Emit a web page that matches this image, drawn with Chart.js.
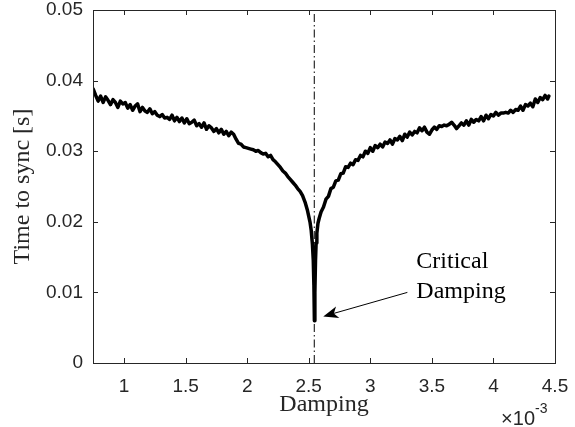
<!DOCTYPE html>
<html>
<head>
<meta charset="utf-8">
<script src="https://cdn.jsdelivr.net/npm/chart.js@4.4.0/dist/chart.umd.min.js"></script>
<style>
  html, body { margin: 0; padding: 0; background: #fff; }
  #chart { display: block; }
</style>
</head>
<body>
<canvas id="chart" width="575" height="427"></canvas>
<script>
// damping values are in units of 1e-3 (axis shows x10^-3)
const dampingE3 = [
  0.75, 0.77, 0.79, 0.81, 0.83, 0.85, 0.87, 0.89, 0.91, 0.93, 0.95, 0.97, 0.99,
  1.01, 1.03, 1.05, 1.07, 1.09, 1.11, 1.13, 1.15, 1.17, 1.19, 1.21, 1.23, 1.25,
  1.27, 1.29, 1.31, 1.33, 1.35, 1.37, 1.39, 1.41, 1.43, 1.45, 1.47, 1.49, 1.51,
  1.53, 1.55, 1.57, 1.59, 1.61, 1.63, 1.65, 1.67, 1.69, 1.71, 1.73, 1.75, 1.77,
  1.79, 1.81, 1.83, 1.85, 1.87, 1.89, 1.91, 1.93, 1.95, 1.97, 1.99, 2.01, 2.03,
  2.05, 2.07, 2.09, 2.11, 2.13, 2.15, 2.17, 2.19, 2.21, 2.23, 2.25, 2.27, 2.29,
  2.31, 2.33, 2.35, 2.37, 2.39, 2.41, 2.43, 2.45, 2.47, 2.49, 2.51, 2.52, 2.53,
  2.537, 2.542, 2.546, 2.55, 2.555, 2.56, 2.566, 2.575, 2.585, 2.60, 2.62, 2.64,
  2.66, 2.68, 2.70, 2.72, 2.74, 2.76, 2.78, 2.80, 2.82, 2.84, 2.86, 2.88, 2.90,
  2.92, 2.94, 2.96, 2.98, 3.00, 3.02, 3.04, 3.06, 3.08, 3.10, 3.12, 3.14, 3.16,
  3.18, 3.20, 3.22, 3.24, 3.26, 3.28, 3.30, 3.32, 3.34, 3.36, 3.38, 3.40, 3.42,
  3.44, 3.46, 3.48, 3.50, 3.52, 3.54, 3.56, 3.58, 3.60, 3.62, 3.64, 3.66, 3.68,
  3.70, 3.72, 3.74, 3.76, 3.78, 3.80, 3.82, 3.84, 3.86, 3.88, 3.90, 3.92, 3.94,
  3.96, 3.98, 4.00, 4.02, 4.04, 4.06, 4.08, 4.10, 4.12, 4.14, 4.16, 4.18, 4.20,
  4.22, 4.24, 4.26, 4.28, 4.30, 4.32, 4.34, 4.36, 4.38, 4.40, 4.42, 4.44, 4.45
];

const timeToSync = [
  0.0388, 0.0379, 0.0371, 0.0378, 0.0369, 0.0377, 0.0372, 0.0366, 0.0373, 0.0369, 0.0362, 0.0371, 0.0367,
  0.0369, 0.0361, 0.0366, 0.0358, 0.0364, 0.0367, 0.0356, 0.0362, 0.0357, 0.0355, 0.0360, 0.0353, 0.0356,
  0.0351, 0.0349, 0.0352, 0.0347, 0.0348, 0.0345, 0.0351, 0.0343, 0.0348, 0.0342, 0.0347, 0.0340, 0.0346,
  0.0339, 0.0341, 0.0344, 0.0336, 0.0339, 0.0334, 0.0340, 0.0331, 0.0336, 0.0333, 0.0328, 0.0332, 0.0326,
  0.0331, 0.0324, 0.0328, 0.0322, 0.0327, 0.0324, 0.0317, 0.0311, 0.0310, 0.0306, 0.0305, 0.0304, 0.0303,
  0.0302, 0.0300, 0.0301, 0.0298, 0.0296, 0.0297, 0.0292, 0.0294, 0.0288, 0.0285, 0.0281, 0.0277, 0.0272,
  0.0269, 0.0264, 0.0260, 0.0256, 0.0252, 0.0247, 0.0243, 0.0237, 0.0228, 0.0216, 0.0200, 0.0188, 0.0168,
  0.0145, 0.0110, 0.0060, 0.0100, 0.0145, 0.0170, 0.0184, 0.0198, 0.0205, 0.0214, 0.0221, 0.0232,
  0.0236, 0.0247, 0.0249, 0.0258, 0.0259, 0.0268, 0.0269, 0.0278, 0.0277, 0.0283, 0.0281, 0.0288, 0.0287,
  0.0294, 0.0292, 0.0300, 0.0297, 0.0305, 0.0300, 0.0308, 0.0305, 0.0310, 0.0306, 0.0313, 0.0311, 0.0316,
  0.0310, 0.0318, 0.0316, 0.0321, 0.0315, 0.0324, 0.0320, 0.0327, 0.0323, 0.0328, 0.0326, 0.0333, 0.0329,
  0.0334, 0.0327, 0.0324, 0.0330, 0.0334, 0.0331, 0.0336, 0.0335, 0.0337, 0.0336, 0.0338, 0.0341, 0.0337,
  0.0332, 0.0336, 0.0340, 0.0337, 0.0343, 0.0337, 0.0345, 0.0341, 0.0345, 0.0343, 0.0349, 0.0343, 0.0351,
  0.0346, 0.0352, 0.0350, 0.0355, 0.0351, 0.0354, 0.0354, 0.0355, 0.0354, 0.0358, 0.0355, 0.0359, 0.0358,
  0.0364, 0.0358, 0.0366, 0.0364, 0.0368, 0.0363, 0.0374, 0.0369, 0.0376, 0.0373, 0.0379, 0.0374, 0.0378
];

const xTickValues = [1, 1.5, 2, 2.5, 3, 3.5, 4, 4.5];
const yTickValues = [0, 0.01, 0.02, 0.03, 0.04, 0.05];

const criticalDamping = 2.545;
const arrowTail = [3.301, 0.0100];
const arrowTip = [2.618, 0.0066];
const noteAnchor = [3.374, 0.01343];
const noteLines = ['Critical', 'Damping'];

const axisColor = '#262626';
const sansFont = '"Liberation Sans", Arial, Helvetica, sans-serif';
const serifFont = '"Liberation Serif", "Times New Roman", serif';

const curve = dampingE3.map((d, i) => ({ x: d, y: timeToSync[i] }));

// box, inward ticks, exponent, arrow and note
const decorations = {
    id: 'decorations',
    afterDraw(chart) {
        const { ctx, chartArea: a, scales } = chart;
        const xs = scales.x, ys = scales.y;
        const tick = 5;
        ctx.save();
        ctx.strokeStyle = axisColor;
        ctx.lineWidth = 1;
        ctx.strokeRect(Math.round(a.left) + 0.5, Math.round(a.top) + 0.5,
            Math.round(a.right - a.left), Math.round(a.bottom - a.top));
        ctx.beginPath();
        xTickValues.forEach(v => {
            const px = Math.round(xs.getPixelForValue(v)) + 0.5;
            ctx.moveTo(px, a.bottom); ctx.lineTo(px, a.bottom - tick);
            ctx.moveTo(px, a.top); ctx.lineTo(px, a.top + tick);
        });
        yTickValues.forEach(v => {
            const py = Math.round(ys.getPixelForValue(v)) + 0.5;
            ctx.moveTo(a.left, py); ctx.lineTo(a.left + tick, py);
            ctx.moveTo(a.right, py); ctx.lineTo(a.right - tick, py);
        });
        ctx.stroke();

        // x10^-3 exponent label
        ctx.fillStyle = axisColor;
        ctx.textBaseline = 'alphabetic';
        ctx.textAlign = 'right';
        ctx.font = '20px ' + sansFont;
        ctx.fillText('\u00d710', 535, 425);
        ctx.textAlign = 'left';
        ctx.font = '14px ' + sansFont;
        ctx.fillText('-3', 535, 413);

        // arrow
        const tx = xs.getPixelForValue(arrowTail[0]), ty = ys.getPixelForValue(arrowTail[1]);
        const hx = xs.getPixelForValue(arrowTip[0]), hy = ys.getPixelForValue(arrowTip[1]);
        const ang = Math.atan2(hy - ty, hx - tx);
        const len = 15, half = 6, notch = 4;
        ctx.strokeStyle = '#000';
        ctx.fillStyle = '#000';
        ctx.beginPath();
        ctx.moveTo(tx, ty);
        ctx.lineTo(hx - Math.cos(ang) * (len - notch), hy - Math.sin(ang) * (len - notch));
        ctx.stroke();
        ctx.translate(hx, hy);
        ctx.rotate(ang);
        ctx.beginPath();
        ctx.moveTo(0, 0);
        ctx.lineTo(-len, -half);
        ctx.lineTo(-len + notch, 0);
        ctx.lineTo(-len, half);
        ctx.closePath();
        ctx.fill();
        ctx.setTransform(1, 0, 0, 1, 0, 0);

        // note text
        ctx.font = '24px ' + serifFont;
        ctx.textAlign = 'left';
        ctx.textBaseline = 'alphabetic';
        const nx = xs.getPixelForValue(noteAnchor[0]);
        const ny = ys.getPixelForValue(noteAnchor[1]);
        noteLines.forEach((t, i) => ctx.fillText(t, nx, ny + i * 30));
        ctx.restore();
    }
};

new Chart(document.getElementById('chart'), {
    type: 'line',
    data: {
        datasets: [{
            data: curve,
            borderColor: '#000',
            borderWidth: 3.5,
            pointRadius: 0,
            tension: 0,
            borderJoinStyle: 'round',
            borderCapStyle: 'round',
            order: 1
        }, {
            data: [{ x: criticalDamping, y: 0 }, { x: criticalDamping, y: 0.05 }],
            borderColor: '#000',
            borderWidth: 1,
            borderDash: [8, 3, 1.5, 3],
            pointRadius: 0,
            order: 2
        }]
    },
    options: {
        responsive: false,
        animation: false,
        devicePixelRatio: 1,
        layout: { padding: { top: 10, right: 20, left: 0, bottom: 0 } },
        plugins: { legend: { display: false }, tooltip: { enabled: false } },
        scales: {
            x: {
                type: 'linear',
                min: 0.748,
                max: 4.5,
                grid: { display: false, drawTicks: false },
                border: { display: false },
                afterBuildTicks: s => { s.ticks = xTickValues.map(v => ({ value: v })); },
                afterFit: s => { s.height = 64; s.paddingLeft = 0; s.paddingRight = 0; },
                ticks: {
                    autoSkip: false,
                    maxRotation: 0,
                    padding: 12,
                    color: axisColor,
                    font: { family: sansFont, size: 19 },
                    callback: v => String(v)
                },
                title: {
                    display: true,
                    text: 'Damping',
                    color: axisColor,
                    font: { family: serifFont, size: 24 },
                    padding: { top: 0, bottom: 8 }
                }
            },
            y: {
                min: 0,
                max: 0.05,
                grid: { display: false, drawTicks: false },
                border: { display: false },
                afterBuildTicks: s => { s.ticks = yTickValues.map(v => ({ value: v })); },
                afterFit: s => { s.width = 93; s.paddingTop = 0; s.paddingBottom = 0; },
                ticks: {
                    padding: 10,
                    color: axisColor,
                    font: { family: sansFont, size: 19 },
                    callback: v => v === 0 ? '0' : v.toFixed(2)
                },
                title: {
                    display: true,
                    text: 'Time to sync [s]',
                    color: axisColor,
                    font: { family: serifFont, size: 24 },
                    padding: { top: 8, bottom: 0 }
                }
            }
        }
    },
    plugins: [decorations]
});
</script>
</body>
</html>
